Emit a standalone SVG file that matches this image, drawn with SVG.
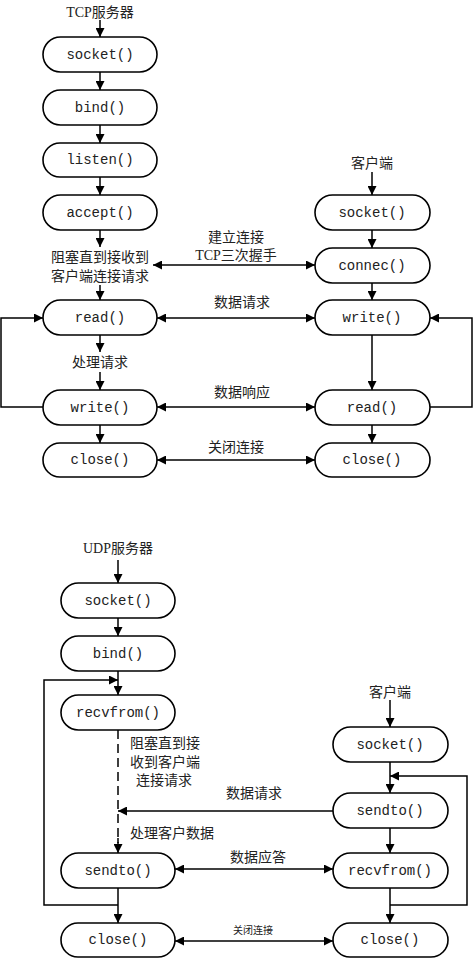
<svg xmlns="http://www.w3.org/2000/svg" width="474" height="959" viewBox="0 0 474 959">
<defs>
<marker id="ah" viewBox="0 0 10 10" refX="10" refY="5" markerWidth="9" markerHeight="9" markerUnits="userSpaceOnUse" orient="auto-start-reverse">
<path d="M0,0 L10,5 L0,10 z" fill="#000"/>
</marker>
<style>
.box{fill:#fff;stroke:#000;stroke-width:1.6}
.fn{font-family:"Liberation Mono","DejaVu Sans Mono",monospace;font-size:14px;fill:#222;text-anchor:middle;dominant-baseline:central}
.lb{font-family:"Liberation Serif","Noto Sans CJK SC",serif;font-size:14px;fill:#222;text-anchor:middle;dominant-baseline:central}
.ll{text-anchor:start}
.ln{fill:none;stroke:#000;stroke-width:1.5}
.arr{marker-end:url(#ah)}
.dbl{marker-start:url(#ah);marker-end:url(#ah)}
.dash{stroke-dasharray:9,5}
</style>
</defs>
<rect width="474" height="959" fill="#fff"/>

<g id="connectors">
<!-- TCP server -->
<line class="ln arr" x1="100" y1="20" x2="100" y2="37"/>
<line class="ln arr" x1="100" y1="72" x2="100" y2="90"/>
<line class="ln arr" x1="100" y1="125" x2="100" y2="143"/>
<line class="ln arr" x1="100" y1="177" x2="100" y2="195"/>
<line class="ln arr" x1="100" y1="230" x2="100" y2="247"/>
<line class="ln arr" x1="100" y1="285" x2="100" y2="300"/>
<line class="ln arr" x1="100" y1="335" x2="100" y2="352"/>
<line class="ln arr" x1="100" y1="372" x2="100" y2="390"/>
<line class="ln arr" x1="100" y1="425" x2="100" y2="443"/>
<polyline class="ln arr" points="43,407 1,407 1,318 43,318"/>
<!-- TCP client -->
<line class="ln arr" x1="372" y1="172" x2="372" y2="195"/>
<line class="ln arr" x1="372" y1="230" x2="372" y2="248"/>
<line class="ln arr" x1="372" y1="283" x2="372" y2="300"/>
<line class="ln arr" x1="372" y1="335" x2="372" y2="390"/>
<line class="ln arr" x1="372" y1="425" x2="372" y2="443"/>
<polyline class="ln arr" points="430,407 472,407 472,318 430,318"/>
<!-- TCP cross -->
<line class="ln dbl" x1="153" y1="265" x2="315" y2="265"/>
<line class="ln dbl" x1="157" y1="318" x2="315" y2="318"/>
<line class="ln dbl" x1="157" y1="407" x2="315" y2="407"/>
<line class="ln dbl" x1="157" y1="460" x2="315" y2="460"/>

<!-- UDP server -->
<line class="ln arr" x1="118" y1="560" x2="118" y2="583"/>
<line class="ln arr" x1="118" y1="618" x2="118" y2="636"/>
<line class="ln arr" x1="118" y1="671" x2="118" y2="695"/>
<polyline class="ln arr" points="118,905 44,905 44,680 118,680"/>
<line class="ln dash" x1="118" y1="730" x2="118" y2="843"/>
<line class="ln arr" x1="118" y1="838" x2="118" y2="853"/>
<line class="ln arr" x1="118" y1="888" x2="118" y2="923"/>
<!-- UDP client -->
<line class="ln arr" x1="390" y1="700" x2="390" y2="727"/>
<line class="ln arr" x1="390" y1="762" x2="390" y2="793"/>
<polyline class="ln arr" points="390,905 467,905 467,776 390,776"/>
<line class="ln arr" x1="390" y1="828" x2="390" y2="853"/>
<line class="ln arr" x1="390" y1="888" x2="390" y2="923"/>
<!-- UDP cross -->
<line class="ln arr" x1="333" y1="811" x2="118" y2="811"/>
<line class="ln dbl" x1="175" y1="869" x2="333" y2="869"/>
<line class="ln dbl" x1="175" y1="941" x2="333" y2="941"/>
</g>

<g id="labels">
<text class="lb" x="100" y="12">TCP服务器</text>
<text class="lb" x="100" y="257">阻塞直到接收到</text>
<text class="lb" x="100" y="276">客户端连接请求</text>
<text class="lb" x="100" y="362">处理请求</text>
<text class="lb" x="372" y="163">客户端</text>
<text class="lb" x="236" y="237">建立连接</text>
<text class="lb" x="236" y="255">TCP三次握手</text>
<text class="lb" x="242" y="302">数据请求</text>
<text class="lb" x="242" y="392">数据响应</text>
<text class="lb" x="236" y="447">关闭连接</text>

<text class="lb" x="118" y="548">UDP服务器</text>
<text class="lb ll" x="130" y="743">阻塞直到接</text>
<text class="lb ll" x="130" y="762">收到客户端</text>
<text class="lb ll" x="136" y="780">连接请求</text>
<text class="lb ll" x="130" y="833">处理客户数据</text>
<text class="lb" x="390" y="692">客户端</text>
<text class="lb" x="254" y="793">数据请求</text>
<text class="lb" x="258" y="857">数据应答</text>
<text class="lb" x="253" y="930" style="font-size:10px">关闭连接</text>
</g>

<g id="tcp-s-socket"><rect class="box" x="43" y="37" width="114" height="35" rx="17.5"/><text class="fn" x="100" y="55">socket()</text></g>
<g id="tcp-s-bind"><rect class="box" x="43" y="90" width="114" height="35" rx="17.5"/><text class="fn" x="100" y="108">bind()</text></g>
<g id="tcp-s-listen"><rect class="box" x="43" y="143" width="114" height="34" rx="17"/><text class="fn" x="100" y="160">listen()</text></g>
<g id="tcp-s-accept"><rect class="box" x="43" y="195" width="114" height="35" rx="17.5"/><text class="fn" x="100" y="213">accept()</text></g>
<g id="tcp-s-read"><rect class="box" x="43" y="300" width="114" height="35" rx="17.5"/><text class="fn" x="100" y="318">read()</text></g>
<g id="tcp-s-write"><rect class="box" x="43" y="390" width="114" height="35" rx="17.5"/><text class="fn" x="100" y="408">write()</text></g>
<g id="tcp-s-close"><rect class="box" x="43" y="443" width="114" height="34" rx="17"/><text class="fn" x="100" y="460">close()</text></g>

<g id="tcp-c-socket"><rect class="box" x="315" y="195" width="115" height="35" rx="17.5"/><text class="fn" x="372" y="213">socket()</text></g>
<g id="tcp-c-connec"><rect class="box" x="315" y="248" width="115" height="35" rx="17.5"/><text class="fn" x="372" y="266">connec()</text></g>
<g id="tcp-c-write"><rect class="box" x="315" y="300" width="115" height="35" rx="17.5"/><text class="fn" x="372" y="318">write()</text></g>
<g id="tcp-c-read"><rect class="box" x="315" y="390" width="115" height="35" rx="17.5"/><text class="fn" x="372" y="408">read()</text></g>
<g id="tcp-c-close"><rect class="box" x="315" y="443" width="115" height="34" rx="17"/><text class="fn" x="372" y="460">close()</text></g>

<g id="udp-s-socket"><rect class="box" x="61" y="583" width="114" height="35" rx="17.5"/><text class="fn" x="118" y="601">socket()</text></g>
<g id="udp-s-bind"><rect class="box" x="61" y="636" width="114" height="35" rx="17.5"/><text class="fn" x="118" y="654">bind()</text></g>
<g id="udp-s-recvfrom"><rect class="box" x="61" y="695" width="114" height="35" rx="17.5"/><text class="fn" x="118" y="713">recvfrom()</text></g>
<g id="udp-s-sendto"><rect class="box" x="61" y="853" width="114" height="35" rx="17.5"/><text class="fn" x="118" y="871">sendto()</text></g>
<g id="udp-s-close"><rect class="box" x="61" y="923" width="114" height="34" rx="17"/><text class="fn" x="118" y="940">close()</text></g>

<g id="udp-c-socket"><rect class="box" x="333" y="727" width="115" height="35" rx="17.5"/><text class="fn" x="390" y="745">socket()</text></g>
<g id="udp-c-sendto"><rect class="box" x="333" y="793" width="115" height="35" rx="17.5"/><text class="fn" x="390" y="811">sendto()</text></g>
<g id="udp-c-recvfrom"><rect class="box" x="333" y="853" width="115" height="35" rx="17.5"/><text class="fn" x="390" y="871">recvfrom()</text></g>
<g id="udp-c-close"><rect class="box" x="333" y="923" width="115" height="34" rx="17"/><text class="fn" x="390" y="940">close()</text></g>
</svg>
